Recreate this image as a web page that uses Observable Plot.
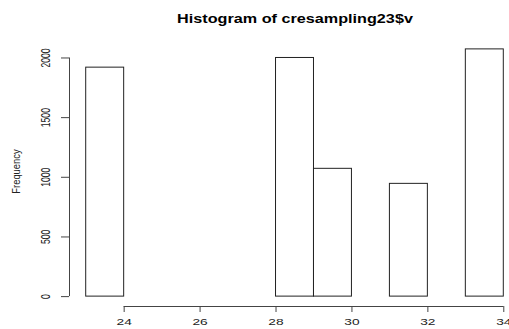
<!DOCTYPE html>
<html>
<head>
<meta charset="utf-8">
<script src="https://cdn.jsdelivr.net/npm/d3@7"></script>
<script src="https://cdn.jsdelivr.net/npm/@observablehq/plot@0.6"></script>
<style>
  html, body { margin: 0; padding: 0; background: #fff; }
  #chart svg { display: block; }
</style>
</head>
<body>
<div id="chart"></div>
<script>
// Histogram of cresampling23$v : bins of width 1 between 23 and 34
const title = "Histogram of cresampling23$v";
const yLabel = "Frequency";
const binStarts = [23, 24, 25, 26, 27, 28, 29, 30, 31, 32, 33];
const binWidth = 1;
const counts = [1919, 0, 0, 0, 0, 2000, 1071, 0, 945, 0, 2072];
const xTicks = [24, 26, 28, 30, 32, 34];
const yTicks = [0, 500, 1000, 1500, 2000];

const bins = binStarts.map((x0, i) => ({x0, x1: x0 + binWidth, count: counts[i]}));
const xMin = binStarts[0];
const xMax = binStarts[binStarts.length - 1] + binWidth;
const yMax = d3.max(counts);
// base-graphics style: extend each data range by 4% on both sides
const xDomain = [xMin - 0.04 * (xMax - xMin), xMax + 0.04 * (xMax - xMin)];
const yDomain = [-0.04 * yMax, yMax * 1.04];

const ink = "#222";
const axisInk = "#444";

const chart = Plot.plot({
  width: 509,
  height: 329,
  marginTop: 39,
  marginBottom: 23,
  marginLeft: 69,
  marginRight: 0,
  style: {fontFamily: "'Liberation Sans', Arial, sans-serif", background: "#fff", color: ink},
  x: {domain: xDomain, range: [69, 520]},
  y: {domain: yDomain},
  marks: [
    // bars (empty bins collapse onto the baseline)
    Plot.rect(bins, {x1: "x0", x2: "x1", y1: 0, y2: "count", fill: "#fff", stroke: ink, strokeWidth: 1}),
    // x axis: line spans first to last tick
    Plot.ruleY([yDomain[0]], {x1: xTicks[0], x2: xTicks[xTicks.length - 1], stroke: axisInk}),
    Plot.axisX({ticks: xTicks, tickSize: 6, tickPadding: 6, tickFormat: d => String(d),
      fontSize: 8.6, stroke: axisInk, strokeOpacity: 1, color: ink, label: null}),
    // y axis: line spans first to last tick
    Plot.ruleX([xDomain[0]], {y1: yTicks[0], y2: yTicks[yTicks.length - 1], stroke: axisInk}),
    Plot.axisY({ticks: yTicks, tickSize: 8, tickFormat: () => "", stroke: axisInk, strokeOpacity: 1, label: null}),
    Plot.text(yTicks, {x: xDomain[0], y: d => d, text: d => String(d), rotate: -90, dx: -23.7,
      fontSize: 8.6, fill: ink}),
    // axis title
    Plot.text([yLabel], {frameAnchor: "left", textAnchor: "middle", lineAnchor: "middle",
      rotate: -90, dx: -52.5, dy: -1.5, fontSize: 9.4, fill: ink}),
    // main title
    Plot.text([title], {x: () => (xDomain[0] + xDomain[1]) / 2, frameAnchor: "top", lineAnchor: "middle",
      dy: -20, fontSize: 12, fontWeight: "bold", fill: "#000"})
  ]
});

// horizontal widening of each label, by its content
const widen = new Map([
  [title, 1.35],
  [yLabel, 1.1],
  ...yTicks.map(d => [String(d), 1.5]),
  ...xTicks.map(d => [String(d), 1.6])
]);

chart.querySelectorAll("text").forEach(t => {
  const sx = widen.get(t.textContent.trim());
  if (!sx) return;
  // anchor point in the parent's coordinates
  const tr = t.getAttribute("transform") || "";
  const m = tr.match(/translate\(\s*([-\d.e]+)[ ,]+([-\d.e]+)\s*\)/);
  const px = (m ? +m[1] : 0) + (+t.getAttribute("x") || 0);
  const py = (m ? +m[2] : 0) + (+t.getAttribute("y") || 0);
  const g = document.createElementNS("http://www.w3.org/2000/svg", "g");
  g.setAttribute("transform", `translate(${px},${py}) scale(${sx},1) translate(${-px},${-py})`);
  t.parentNode.insertBefore(g, t);
  g.appendChild(t);
});

document.getElementById("chart").appendChild(chart);
</script>
</body>
</html>
